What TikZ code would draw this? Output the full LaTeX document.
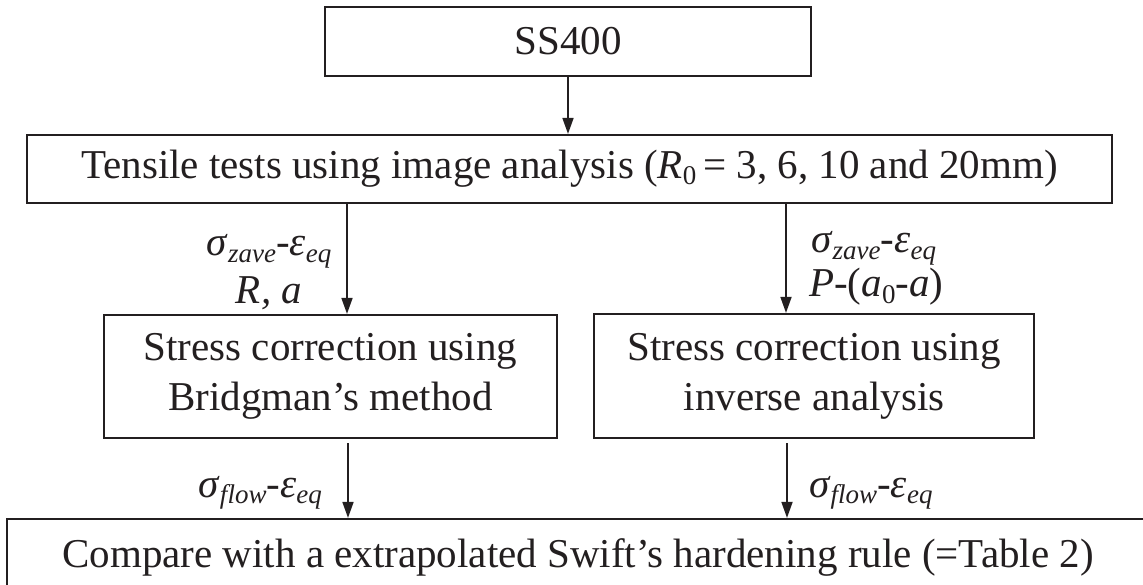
\documentclass[tikz,border=0pt]{standalone}
\usepackage{fontspec}
\setmainfont{Liberation Serif}
\usetikzlibrary{arrows.meta}
\definecolor{ink}{HTML}{231F20}
% lowered, smaller index text
\newcommand\idx[1]{\raisebox{-0.15em}{\fontsize{27}{30}\selectfont #1}}
\begin{document}
\begin{tikzpicture}[x=1pt,y=-1pt,
  txt/.style={font=\fontsize{41}{48}\selectfont, text=ink},
  box/.style={txt, draw=ink, line width=2.2pt, inner sep=0pt, align=center},
  arr/.style={draw=ink, line width=1.7pt, -{Triangle[length=16pt,width=11pt]}},
  lbl/.style={txt, inner sep=0pt}]
\useasboundingbox (0,0) rectangle (1143,585);
\clip (0,0) rectangle (1143,585);

% process boxes
\node[box, minimum width=486pt, minimum height=69pt] (ss) at (568,41.5) {SS400};
\node[box, minimum width=1085pt, minimum height=68pt] (tens) at (569.5,169)
  {Tensile tests using image analysis (\textit{R}\idx{0}\,= 3, 6, 10 and 20mm)};
\node[box, minimum width=453pt, minimum height=123pt] (brid) at (330.5,376.5)
  {Stress correction using\\[2pt]Bridgman’s method};
\node[box, minimum width=440pt, minimum height=124pt] (inv) at (814,376)
  {Stress correction using\\[2pt]inverse analysis};
\node[box, minimum width=1142pt, minimum height=76pt] (comp) at (578,557)
  {Compare with a extrapolated Swift’s hardening rule (=Table 2)};

% arrow columns
\coordinate (la) at (347,0);
\coordinate (ra) at (786,0);
\coordinate (lb) at (348,0);
\coordinate (rb) at (787,0);

% connectors
\draw[arr] (ss.south) -- (ss.south |- tens.north);
\draw[arr] (tens.south -| la) -- (brid.north -| la);
\draw[arr] (tens.south -| ra) -- (inv.north -| ra);
\draw[arr, shorten <=4pt] (brid.south -| lb) -- (comp.north -| lb);
\draw[arr, shorten <=4pt] (inv.south -| rb) -- (comp.north -| rb);

% connector labels
\node[lbl, anchor=base] (l1) at (269,256)
  {\textit{σ}\idx{\textit{zave}}-\textit{ε}\idx{\textit{eq}}};
\node[lbl, anchor=base] (l2) at (269,304) {\textit{R, a}};
\node[lbl, anchor=base west] (r1) at (811,253)
  {\textit{σ}\idx{\textit{zave}}-\textit{ε}\idx{\textit{eq}}};
\node[lbl, anchor=base west] (r2) at (809,297)
  {\textit{P}-(\textit{a}\idx{0}-\textit{a})};
\node[lbl, anchor=base east] (l3) at (322,497)
  {\textit{σ}\idx{\textit{flow}}-\textit{ε}\idx{\textit{eq}}};
\node[lbl, anchor=base west] (r3) at (809,497)
  {\textit{σ}\idx{\textit{flow}}-\textit{ε}\idx{\textit{eq}}};
\end{tikzpicture}
\end{document}
